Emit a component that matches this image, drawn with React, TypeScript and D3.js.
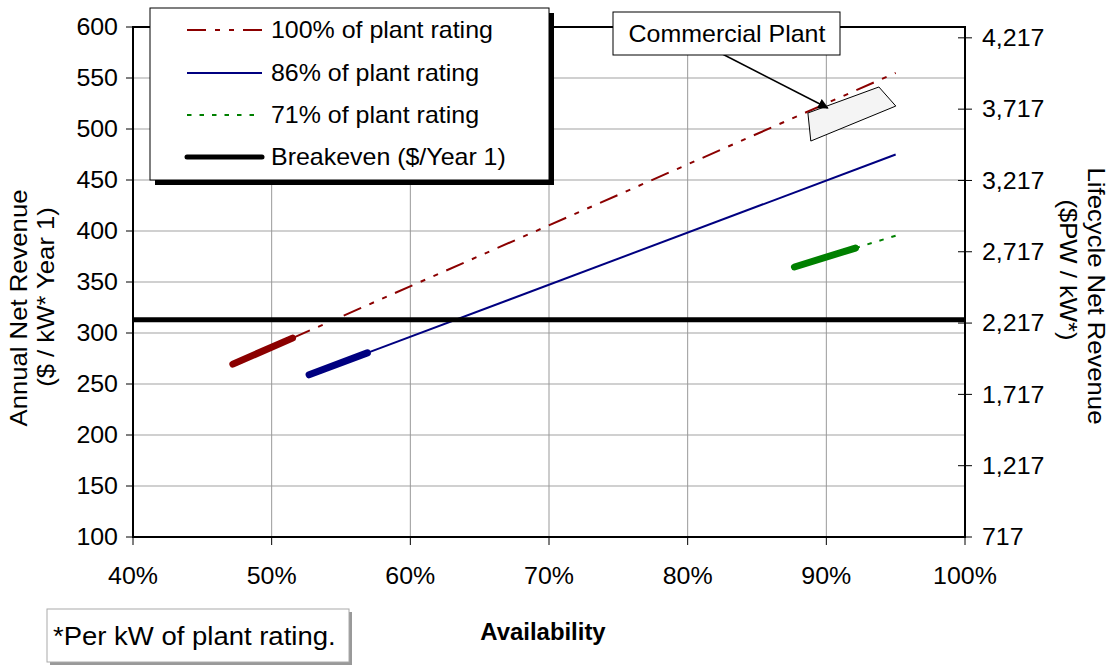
import React from 'react';
import * as d3 from 'd3';

const width = 1112;
const height = 667;
const margin = { top: 27, right: 147, bottom: 130, left: 133 };

// availability (%) and annual net revenue ($/kW year 1); first two points are the thick segment
const availability100 = [47.2, 51.5, 95];
const revenue100 = [269.5, 295, 555];
const availability86 = [52.7, 56.9, 95];
const revenue86 = [259, 280.5, 475];
const availability71 = [87.7, 92.1, 95];
const revenue71 = [364.7, 383.3, 395.4];
const breakeven = 313;

const legendLabels = ['100% of plant rating', '86% of plant rating', '71% of plant rating', 'Breakeven ($/Year 1)'];
const xTicks = [40, 50, 60, 70, 80, 90, 100];
const yTicks = [100, 150, 200, 250, 300, 350, 400, 450, 500, 550, 600];
const yRightTicks = [717, 1217, 1717, 2217, 2717, 3217, 3717, 4217];

// commercial plant region (availability, revenue)
const plantX = [88.67, 93.79, 95.01, 88.88];
const plantY = [515.7, 541.2, 522.5, 488.2];
const arrowFrom = [82.5, 573.5];
const arrowTo = [90.1, 520.6];

const FONT = 'Arial, "Liberation Sans", sans-serif';

const T = ({ x, y, anchor = 'start', size = 24, sx = 1.04, weight = 'normal', rot = 0, children }: any) => (
  <text
    transform={`translate(${x},${y}) rotate(${rot}) scale(${sx},1)`}
    textAnchor={anchor}
    dominantBaseline="central"
    fontSize={size}
    fontWeight={weight}
    fontFamily={FONT}
    fill="#000"
  >
    {children}
  </text>
);

export default function App() {
  const x = d3.scaleLinear().domain([40, 100]).range([margin.left, width - margin.right]);
  const y = d3.scaleLinear().domain([100, 600]).range([height - margin.bottom, margin.top]);
  const yR = d3.scaleLinear().domain([717, 4293]).range([height - margin.bottom, margin.top]);
  const [x0, x1] = x.range();
  const [yb, yt] = y.range();

  const line = d3.line<[number, number]>().x((d) => x(d[0])).y((d) => y(d[1]));
  const pts = (xs: number[], ys: number[]) => xs.map((v, i) => [v, ys[i]] as [number, number]);

  const series = [
    { xs: availability100, ys: revenue100, color: '#8b0000', dash: '19 9 5 9 5 9' },
    { xs: availability86, ys: revenue86, color: '#000080', dash: null },
    { xs: availability71, ys: revenue71, color: '#008000', dash: '4.5 8' },
  ];

  const legendRows = [30, 73, 115, 157];
  const plantPath = line(pts(plantX, plantY)) + 'Z';

  return (
    <div style={{ position: 'absolute', left: 0, top: 0 }}>
      <svg width={width} height={height} style={{ background: '#fff', display: 'block' }}>
        <defs>
          <marker id="arrow" viewBox="0 0 10 10" refX="9" refY="5" markerWidth="7" markerHeight="7" orient="auto">
            <path d="M0,0 L10,5 L0,10 Z" fill="#000" />
          </marker>
        </defs>

        {/* grid */}
        {yTicks.map((t) => (
          <line key={'gy' + t} x1={x0} x2={x1} y1={y(t)} y2={y(t)} stroke="#c0c0c0" strokeWidth={1.5} />
        ))}
        {xTicks.map((t) => (
          <line key={'gx' + t} x1={x(t)} x2={x(t)} y1={yb} y2={yt} stroke="#999" strokeWidth={1} />
        ))}

        {/* series */}
        {series.map((s, i) => {
          const p = pts(s.xs, s.ys);
          return (
            <g key={i}>
              <path d={line(p.slice(1)) || ''} fill="none" stroke={s.color} strokeWidth={2} strokeDasharray={s.dash || undefined} />
              <path d={line(p.slice(0, 2)) || ''} fill="none" stroke={s.color} strokeWidth={7} strokeLinecap="round" />
            </g>
          );
        })}

        {/* breakeven */}
        <line x1={x0} x2={x1} y1={y(breakeven)} y2={y(breakeven)} stroke="#000" strokeWidth={5} />

        {/* commercial plant */}
        <path d={plantPath} fill="#f4f4f4" stroke="#000" strokeWidth={1} />

        {/* plot frame */}
        <rect x={x0} y={yt} width={x1 - x0} height={yb - yt} fill="none" stroke="#000" strokeWidth={2} />

        {/* left axis */}
        {yTicks.map((t) => (
          <g key={'ly' + t}>
            <line x1={x0 - 7} x2={x0} y1={y(t)} y2={y(t)} stroke="#000" strokeWidth={1} />
            <T x={x0 - 15} y={y(t)} anchor="end">{t}</T>
          </g>
        ))}
        {/* right axis */}
        {yRightTicks.map((t) => (
          <g key={'ry' + t}>
            <line x1={x1 - 7} x2={x1 + 7} y1={yR(t)} y2={yR(t)} stroke="#000" strokeWidth={1} />
            <T x={x1 + 17} y={yR(t)}>{d3.format(',')(t)}</T>
          </g>
        ))}
        {/* bottom axis */}
        {xTicks.map((t) => (
          <g key={'bx' + t}>
            <line x1={x(t)} x2={x(t)} y1={yb} y2={yb + 8} stroke="#000" strokeWidth={1} />
            <T x={x(t)} y={yb + 39} anchor="middle">{t + '%'}</T>
          </g>
        ))}

        {/* axis titles */}
        <T x={19} y={308} rot={-90} sx={1.07} anchor="middle">Annual Net Revenue</T>
        <T x={46} y={297} rot={-90} sx={1.07} anchor="middle">($ / kW* Year 1)</T>
        <T x={1096} y={296} rot={90} sx={1.07} anchor="middle">Lifecycle Net Revenue</T>
        <T x={1068} y={270} rot={90} sx={1.07} anchor="middle">($PW / kW*)</T>
        <T x={543} y={632} anchor="middle" size={23} weight="bold">Availability</T>

        {/* legend */}
        <rect x={155} y={13} width={399} height={172} fill="#000" />
        <rect x={150} y={8} width={399} height={172} fill="#fff" stroke="#000" strokeWidth={1} />
        {legendLabels.map((lab, i) => {
          const s = series[i];
          return (
            <g key={lab}>
              <line
                x1={187}
                x2={262}
                y1={legendRows[i]}
                y2={legendRows[i]}
                stroke={s ? s.color : '#000'}
                strokeWidth={s ? 2 : 5}
                strokeDasharray={s && s.dash ? s.dash : undefined}
                strokeLinecap={s ? 'butt' : 'round'}
              />
              <T x={271} y={legendRows[i]}>{lab}</T>
            </g>
          );
        })}

        {/* commercial plant label */}
        <line x1={x(arrowFrom[0])} y1={y(arrowFrom[1])} x2={x(arrowTo[0])} y2={y(arrowTo[1])} stroke="#000" strokeWidth={1.5} markerEnd="url(#arrow)" />
        <rect x={613} y={12} width={227} height={43} fill="#fff" stroke="#000" strokeWidth={1} />
        <T x={727} y={34} anchor="middle">Commercial Plant</T>

        {/* footnote */}
        <rect x={50} y={612} width={302} height={53} fill="#999" />
        <rect x={47} y={609} width={302} height={53} fill="#fff" stroke="#aaa" strokeWidth={1} />
        <T x={53} y={636} size={25} sx={1.1}>*Per kW of plant rating.</T>
      </svg>
    </div>
  );
}
